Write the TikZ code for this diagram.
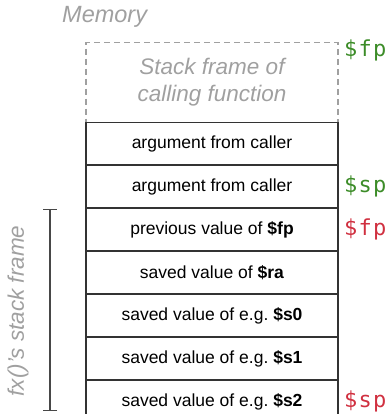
\documentclass[tikz,border=0pt]{standalone}
\usepackage{fontspec}
\setmainfont{Liberation Sans}
\newfontfamily\regfont{DejaVu Sans Mono}
\usetikzlibrary{arrows.meta}
\definecolor{fpgreen}{HTML}{3C8C28}
\definecolor{regred}{HTML}{D03040}
\definecolor{lightgray}{HTML}{A0A0A0}
\definecolor{linegray}{HTML}{333333}
\newcommand{\regname}[2]{\$\kern1.2pt#1\kern1.2pt#2}
\tikzset{
  cell/.style={draw=linegray, line width=1.2pt, minimum width=252pt, minimum height=41.8pt,
    anchor=north, inner sep=0pt, font=\fontsize{17.5}{20}\selectfont},
  graytext/.style={text=lightgray, font=\fontsize{22.5}{27}\selectfont\itshape},
  greenreg/.style={text=fpgreen, anchor=west, inner sep=0pt, font=\regfont\fontsize{22}{24}\selectfont},
  redreg/.style={text=regred, anchor=west, inner sep=0pt, font=\regfont\fontsize{22}{24}\selectfont},
}
\frenchspacing
\begin{document}
\begin{tikzpicture}[x=1pt, y=-1pt]
\useasboundingbox (0,0) rectangle (389,414);
\clip (0,0) rectangle (389,414);
\node[graytext, anchor=west, inner sep=0pt, font=\fontsize{23.5}{27}\selectfont\itshape] (mem) at (62,17) {Memory};
\node[draw=lightgray, line width=1.3pt, dash pattern=on 6pt off 4pt, minimum width=252pt, minimum height=80pt,
  anchor=north, inner sep=0pt, graytext, align=center, font=\fontsize{22.5}{27}\selectfont\itshape]
  (caller) at (212,42) {Stack frame of\\calling function};
\node[cell] (r1) at (212,122) {argument from caller};
\node[cell] (r2) at (r1.south) {argument from caller};
\node[cell] (r3) at (r2.south) {previous value of \textbf{\$fp}};
\node[cell] (r4) at (r3.south) {saved value of \textbf{\$ra}};
\node[cell] (r5) at (r4.south) {saved value of e.g. \textbf{\$s0}};
\node[cell] (r6) at (r5.south) {saved value of e.g. \textbf{\$s1}};
\node[cell] (r7) at (r6.south) {saved value of e.g. \textbf{\$s2}};
\coordinate (regx) at (344,0);
\node[greenreg] (fpold) at (344,50) {\regname{f}{p}};
\node[greenreg] (spold) at (r2.center -| regx) {\regname{s}{p}};
\node[redreg] (fpnew) at (r3.center -| regx) {\regname{f}{p}};
\node[redreg] (spnew) at (r7.center -| regx) {\regname{s}{p}};
\coordinate (btop) at (50,209);
\coordinate (bbot) at (50,411);
\draw[draw=linegray!90, line width=1.3pt, {Bar[width=14pt]}-{Bar[width=14pt]}] (btop) -- (bbot);
\node[graytext, rotate=90, inner sep=0pt] (frame) at (18,311) {fx()'s stack frame};
\end{tikzpicture}
\end{document}
